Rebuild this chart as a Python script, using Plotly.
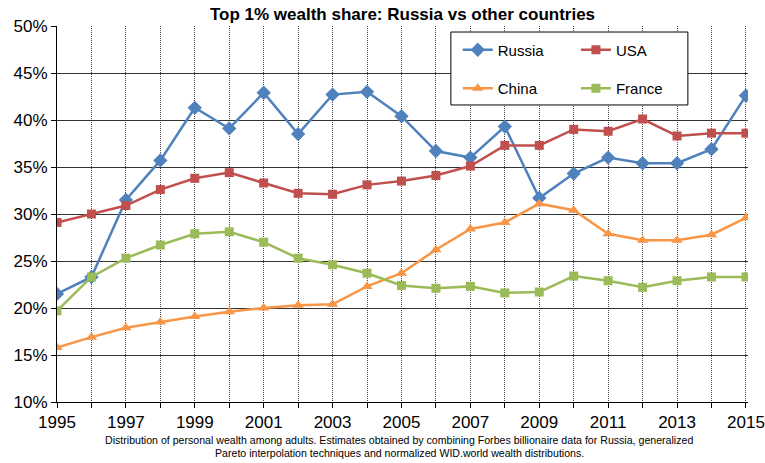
import plotly.graph_objects as go

years = list(range(1995, 2016))

russia = [21.5, 23.3, 31.5, 35.7, 41.3, 39.1, 42.9, 38.5, 42.7, 43.0, 40.4,
          36.7, 36.0, 39.3, 31.7, 34.3, 36.0, 35.4, 35.4, 36.9, 42.6]
usa = [29.1, 30.0, 30.9, 32.6, 33.8, 34.4, 33.3, 32.2, 32.1, 33.1, 33.5,
       34.1, 35.1, 37.3, 37.3, 39.0, 38.8, 40.1, 38.3, 38.6, 38.6]
china = [15.8, 16.9, 17.9, 18.5, 19.1, 19.6, 20.0, 20.3, 20.4, 22.3, 23.7,
         26.2, 28.4, 29.1, 31.1, 30.4, 27.9, 27.2, 27.2, 27.8, 29.6]
france = [19.7, 23.3, 25.3, 26.7, 27.9, 28.1, 27.0, 25.3, 24.6, 23.7, 22.4,
          22.1, 22.3, 21.6, 21.7, 23.4, 22.9, 22.2, 22.9, 23.3, 23.3]

x_labels = [str(y) if (y - 1995) % 2 == 0 else "" for y in years]
y_ticks = [10, 15, 20, 25, 30, 35, 40, 45, 50]

caption_lines = [
    "Distribution of personal wealth among adults. Estimates obtained by combining Forbes billionaire data for Russia, generalized",
    "Pareto interpolation techniques and normalized WID.world wealth distributions.",
]

FONT = "Liberation Sans, Arial, sans-serif"

series = [
    # name, values, colour, marker symbol, marker size, legend, group
    ("Russia", russia, "#4F81BD", "diamond", 11, "legend", "g1"),
    ("USA", usa, "#C0504D", "square", 9, "legend2", "g2"),
    ("China", china, "#F79646", "triangle-up", 10, "legend", "g3"),
    ("France", france, "#9BBB59", "square", 9, "legend2", "g4"),
]

fig = go.Figure()
for name, vals, color, symbol, size, leg, grp in series:
    fig.add_trace(
        go.Scatter(
            x=years,
            y=vals,
            name=name,
            mode="lines+markers",
            line=dict(color=color, width=2.5),
            marker=dict(color=color, symbol=symbol, size=size),
            legend=leg,
            legendgroup=grp,
        )
    )

legend_style = dict(
    font=dict(family=FONT, size=15, color="black"),
    bgcolor="rgba(0,0,0,0)",
    borderwidth=0,
    xanchor="left",
    yanchor="top",
    y=0.98,
    tracegroupgap=16,
    itemwidth=30,
)

# caption, two centred lines under the axis
captions = [
    dict(
        text=line,
        xref="paper", yref="paper",
        x=0.495, y=ypos,
        xanchor="center", yanchor="middle",
        showarrow=False,
        font=dict(family=FONT, size=10.6, color="black"),
    )
    for line, ypos in zip(caption_lines, [-0.101, -0.136])
]

fig.update_layout(
    width=765,
    height=463,
    margin=dict(l=57, r=17, t=26, b=61),
    paper_bgcolor="white",
    plot_bgcolor="white",
    font=dict(family=FONT, color="black"),
    title=dict(
        text="<b>Top 1% wealth share: Russia vs other countries</b>",
        x=0.5, xref="paper", xanchor="center",
        y=1 - 14 / 463, yref="container", yanchor="middle",
        font=dict(family=FONT, size=17, color="black"),
    ),
    xaxis=dict(
        range=[1995, 2015.06],
        tickvals=years,
        ticktext=x_labels,
        ticks="outside",
        ticklen=5,
        tickcolor="black",
        ticklabeloverflow="allow",
        automargin=False,
        tickfont=dict(family=FONT, size=17, color="black"),
        showgrid=True,
        gridcolor="#444444",
        griddash="1px,1px",
        gridwidth=1,
        showline=True,
        linecolor="black",
        linewidth=1,
        zeroline=False,
    ),
    yaxis=dict(
        range=[10, 50],
        tickvals=y_ticks,
        ticktext=[f"{v}%" for v in y_ticks],
        ticks="outside",
        ticklen=5,
        tickcolor="black",
        automargin=False,
        tickfont=dict(family=FONT, size=17, color="black"),
        showgrid=True,
        gridcolor="#333333",
        gridwidth=1,
        showline=True,
        linecolor="black",
        linewidth=1,
        zeroline=False,
    ),
    legend=dict(legend_style, x=0.580),
    legend2=dict(legend_style, x=0.751),
    shapes=[
        dict(
            type="rect", xref="paper", yref="paper",
            x0=0.570, x1=0.913, y0=0.790, y1=0.984,
            fillcolor="white", line=dict(color="black", width=1),
            layer="above",
        )
    ],
    annotations=captions,
)

fig.write_html(
    "out.html",
    config={"displayModeBar": False},
    post_script="document.body.style.margin='0';",
)
